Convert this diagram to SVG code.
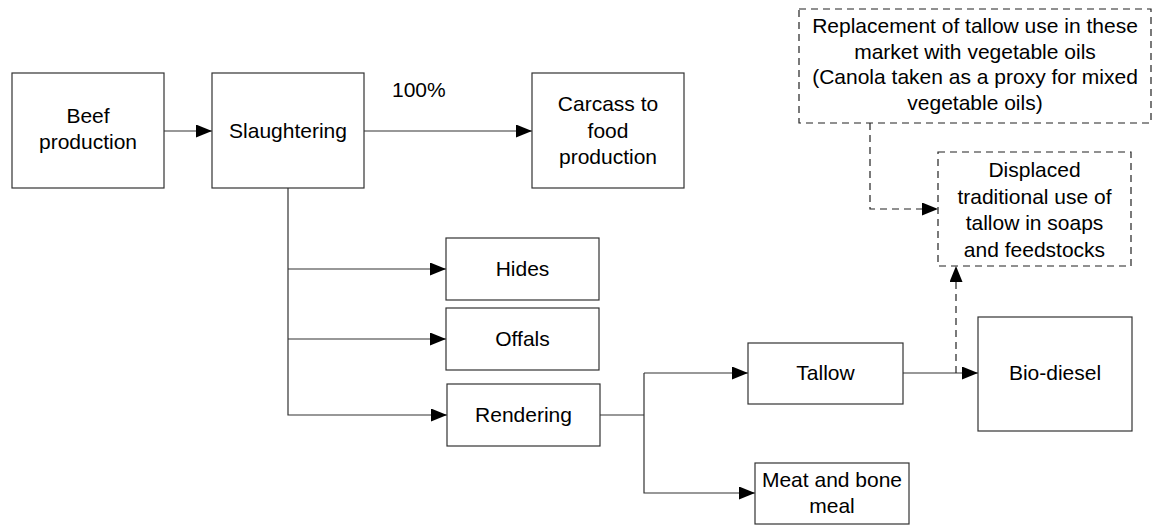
<svg xmlns="http://www.w3.org/2000/svg" width="1153" height="527" viewBox="0 0 1153 527">
<style>
.box{fill:#fff;stroke:#333;stroke-width:1.2}
.dbox{fill:#fff;stroke:#222;stroke-width:1.2;stroke-dasharray:7,5}
.ln{fill:none;stroke:#333;stroke-width:1.2}
.dln{fill:none;stroke:#222;stroke-width:1.2;stroke-dasharray:7,5}
text{font-family:"Liberation Sans",Arial,sans-serif;font-size:21px;fill:#000;text-anchor:middle}
</style>
<defs>
<marker id="ah" markerUnits="userSpaceOnUse" markerWidth="16" markerHeight="13" refX="16" refY="6.5" orient="auto">
<path d="M0,0 L16,6.5 L0,13 z" fill="#000"/>
</marker>
</defs>
<rect width="1153" height="527" fill="#fff"/>
<g id="connectors">
<line class="ln" x1="164" y1="131" x2="212" y2="131" marker-end="url(#ah)"/>
<line class="ln" x1="364" y1="131" x2="532" y2="131" marker-end="url(#ah)"/>
<polyline class="ln" points="288,188 288,415 447,415" marker-end="url(#ah)"/>
<line class="ln" x1="288" y1="269" x2="446" y2="269" marker-end="url(#ah)"/>
<line class="ln" x1="288" y1="339" x2="446" y2="339" marker-end="url(#ah)"/>
<polyline class="ln" points="600,415 644,415"/>
<polyline class="ln" points="644,373 644,493 755,493" marker-end="url(#ah)"/>
<line class="ln" x1="644" y1="373" x2="748" y2="373" marker-end="url(#ah)"/>
<line class="ln" x1="903" y1="373" x2="978" y2="373" marker-end="url(#ah)"/>
<line class="dln" x1="956" y1="373" x2="956" y2="266" marker-end="url(#ah)"/>
<polyline class="dln" points="870,123 870,209 938,209" marker-end="url(#ah)"/>
</g>
<g id="beef">
<rect class="box" x="12" y="73" width="152" height="115"/>
<text x="88" y="123">Beef</text>
<text x="88" y="149">production</text>
</g>
<g id="slaughtering">
<rect class="box" x="212" y="73" width="152" height="115"/>
<text x="288" y="138">Slaughtering</text>
</g>
<g id="label100">
<text x="392" y="97" style="text-anchor:start">100%</text>
</g>
<g id="carcass">
<rect class="box" x="532" y="73" width="152" height="115"/>
<text x="608" y="111">Carcass to</text>
<text x="608" y="137.5">food</text>
<text x="608" y="164">production</text>
</g>
<g id="hides">
<rect class="box" x="446" y="238" width="153" height="62"/>
<text x="522.5" y="276">Hides</text>
</g>
<g id="offals">
<rect class="box" x="446" y="308" width="153" height="62"/>
<text x="522.5" y="346">Offals</text>
</g>
<g id="rendering">
<rect class="box" x="447" y="384" width="153" height="62"/>
<text x="523.5" y="422">Rendering</text>
</g>
<g id="tallow">
<rect class="box" x="748" y="343" width="155" height="61"/>
<text x="825.5" y="380">Tallow</text>
</g>
<g id="meal">
<rect class="box" x="755" y="463" width="154" height="61"/>
<text x="832" y="487">Meat and bone</text>
<text x="832" y="513">meal</text>
</g>
<g id="biodiesel">
<rect class="box" x="978" y="317" width="154" height="114"/>
<text x="1055" y="380">Bio-diesel</text>
</g>
<g id="replacement">
<rect class="dbox" x="799" y="9" width="352" height="114"/>
<text x="975" y="33">Replacement of tallow use in these</text>
<text x="975" y="58.5">market with vegetable oils</text>
<text x="975" y="84">(Canola taken as a proxy for mixed</text>
<text x="975" y="109.5">vegetable oils)</text>
</g>
<g id="displaced">
<rect class="dbox" x="938" y="152" width="193" height="114"/>
<text x="1034.5" y="177">Displaced</text>
<text x="1034.5" y="203.5">traditional use of</text>
<text x="1034.5" y="230">tallow in soaps</text>
<text x="1034.5" y="256.5">and feedstocks</text>
</g>
</svg>
